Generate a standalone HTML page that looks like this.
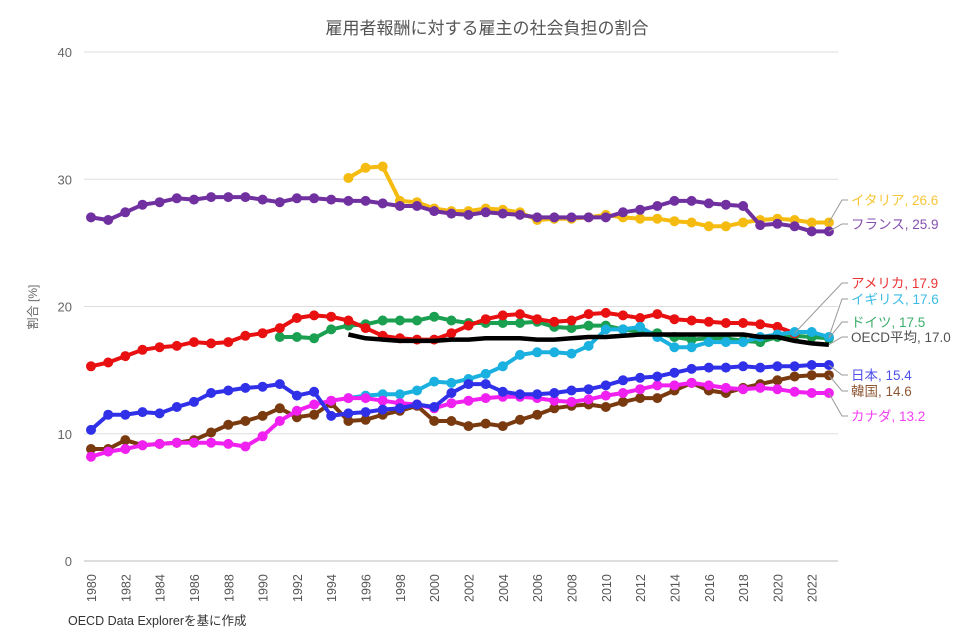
<!DOCTYPE html>
<html><head><meta charset="utf-8"><style>
body{margin:0;background:#fff;width:975px;height:636px;overflow:hidden}
svg{display:block;font-family:"Liberation Sans","Noto Sans CJK JP",sans-serif}
</style></head><body>
<svg id="c" width="975" height="636" xmlns="http://www.w3.org/2000/svg"></svg>
<script>
const S=document.getElementById('c');let h='';
const X=y=>91+(y-1980)*17.16, Y=v=>561-v*12.725;
h+='<text x="487" y="34" text-anchor="middle" font-size="17" fill="#555">雇用者報酬に対する雇主の社会負担の割合</text>';
for(let v=0;v<=40;v+=10){const y=Y(v);h+=`<line x1="84" x2="838" y1="${y}" y2="${y}" stroke="${v==0?'#bbb':'#ddd'}" stroke-width="1"/>`;h+=`<text x="72" y="${y+5}" text-anchor="end" font-size="13" fill="#666">${v}</text>`;}
h+='<text transform="translate(37,307) rotate(-90)" text-anchor="middle" font-size="12" fill="#666">割合 [%]</text>';
for(let yr=1980;yr<=2022;yr+=2){h+=`<text transform="translate(${X(yr)+5},602) rotate(-90)" font-size="12.5" fill="#555">${yr}</text>`;}
h+='<text x="68" y="625" font-size="12.5" fill="#333">OECD Data Explorerを基に作成</text>';
const D=[
['#f5bb10',1995,[30.1,30.9,31.0,28.3,28.2,27.7,27.5,27.5,27.7,27.6,27.4,26.8,26.9,26.9,27.0,27.2,27.0,26.9,26.9,26.7,26.6,26.3,26.3,26.6,26.8,26.9,26.8,26.6,26.6],'イタリア, 26.6',200],
['#7030a0',1980,[27.0,26.8,27.4,28.0,28.2,28.5,28.4,28.6,28.6,28.6,28.4,28.2,28.5,28.5,28.4,28.3,28.3,28.1,27.9,27.9,27.5,27.3,27.2,27.4,27.3,27.2,27.0,27.0,27.0,27.0,27.0,27.4,27.6,27.9,28.3,28.3,28.1,28.0,27.9,26.4,26.5,26.3,25.9,25.9],'フランス, 25.9',224],
['#1aa050',1991,[17.6,17.6,17.5,18.2,18.5,18.6,18.9,18.9,18.9,19.2,18.9,18.7,18.7,18.7,18.7,18.8,18.4,18.3,18.5,18.5,18.2,18.0,17.9,17.6,17.4,17.5,17.5,17.3,17.2,17.6,17.7,17.6,17.5],'ドイツ, 17.5',322],
['#e81010',1980,[15.3,15.6,16.1,16.6,16.8,16.9,17.2,17.1,17.2,17.7,17.9,18.3,19.1,19.3,19.2,18.9,18.3,17.7,17.5,17.4,17.4,17.9,18.5,19.0,19.3,19.4,19.0,18.8,18.9,19.4,19.5,19.3,19.1,19.4,19.0,18.9,18.8,18.7,18.7,18.6,18.4,17.9],'アメリカ, 17.9',283],
['#1ab0e0',1995,[12.8,13.0,13.1,13.1,13.4,14.1,14.0,14.3,14.7,15.3,16.2,16.4,16.4,16.3,16.9,18.2,18.2,18.4,17.6,16.8,16.8,17.2,17.2,17.2,17.6,17.8,18.0,18.0,17.6],'イギリス, 17.6',299],
['#000',1995,[17.8,17.5,17.4,17.3,17.3,17.3,17.4,17.4,17.5,17.5,17.5,17.4,17.4,17.5,17.6,17.6,17.7,17.8,17.8,17.8,17.8,17.8,17.8,17.8,17.6,17.6,17.3,17.1,17.0],'OECD平均, 17.0',337,1],
['#7a3a10',1980,[8.8,8.8,9.5,9.1,9.2,9.3,9.5,10.1,10.7,11.0,11.4,12.0,11.3,11.5,12.4,11.0,11.1,11.5,11.8,12.2,11.0,11.0,10.6,10.8,10.6,11.1,11.5,12.0,12.2,12.3,12.1,12.5,12.8,12.8,13.4,14.0,13.4,13.2,13.6,13.9,14.2,14.5,14.6,14.6],'韓国, 14.6',391],
['#f020f0',1980,[8.2,8.6,8.8,9.1,9.2,9.3,9.3,9.3,9.2,9.0,9.8,11.0,11.8,12.3,12.6,12.8,12.8,12.6,12.4,12.3,12.0,12.4,12.6,12.8,12.9,12.9,12.8,12.6,12.5,12.7,13.0,13.2,13.5,13.8,13.8,14.0,13.8,13.6,13.5,13.6,13.5,13.3,13.2,13.2],'カナダ, 13.2',416],
['#3030e8',1980,[10.3,11.5,11.5,11.7,11.6,12.1,12.5,13.2,13.4,13.6,13.7,13.9,13.0,13.3,11.4,11.6,11.7,11.9,12.0,12.3,12.1,13.2,13.9,13.9,13.3,13.1,13.1,13.2,13.4,13.5,13.8,14.2,14.4,14.5,14.8,15.1,15.2,15.2,15.3,15.2,15.3,15.3,15.4,15.4],'日本, 15.4',375],
];
let lab='';
for(const [c,s,v,t,ly,nodot] of D){
 const pts=v.map((a,i)=>[X(s+i),Y(a)]);
 h+=`<polyline points="${pts.map(p=>p[0].toFixed(1)+','+p[1].toFixed(1)).join(' ')}" fill="none" stroke="${c}" stroke-width="${nodot?4.5:4}" stroke-linejoin="round"/>`;
 if(!nodot)for(const p of pts)h+=`<circle cx="${p[0].toFixed(1)}" cy="${p[1].toFixed(1)}" r="5" fill="${c}"/>`;
 const l=pts[pts.length-1];
 lab+=`<polyline points="${l[0]},${l[1]} ${842},${ly} 848,${ly}" fill="none" stroke="#999" stroke-width="1"/>`;
 lab+=`<text x="851" y="${ly+5}" font-size="13.5" fill="${c=='#000'?'#333':c}" fill-opacity="0.85">${t}</text>`;
}
S.innerHTML=h+lab;
</script>
</body></html>
